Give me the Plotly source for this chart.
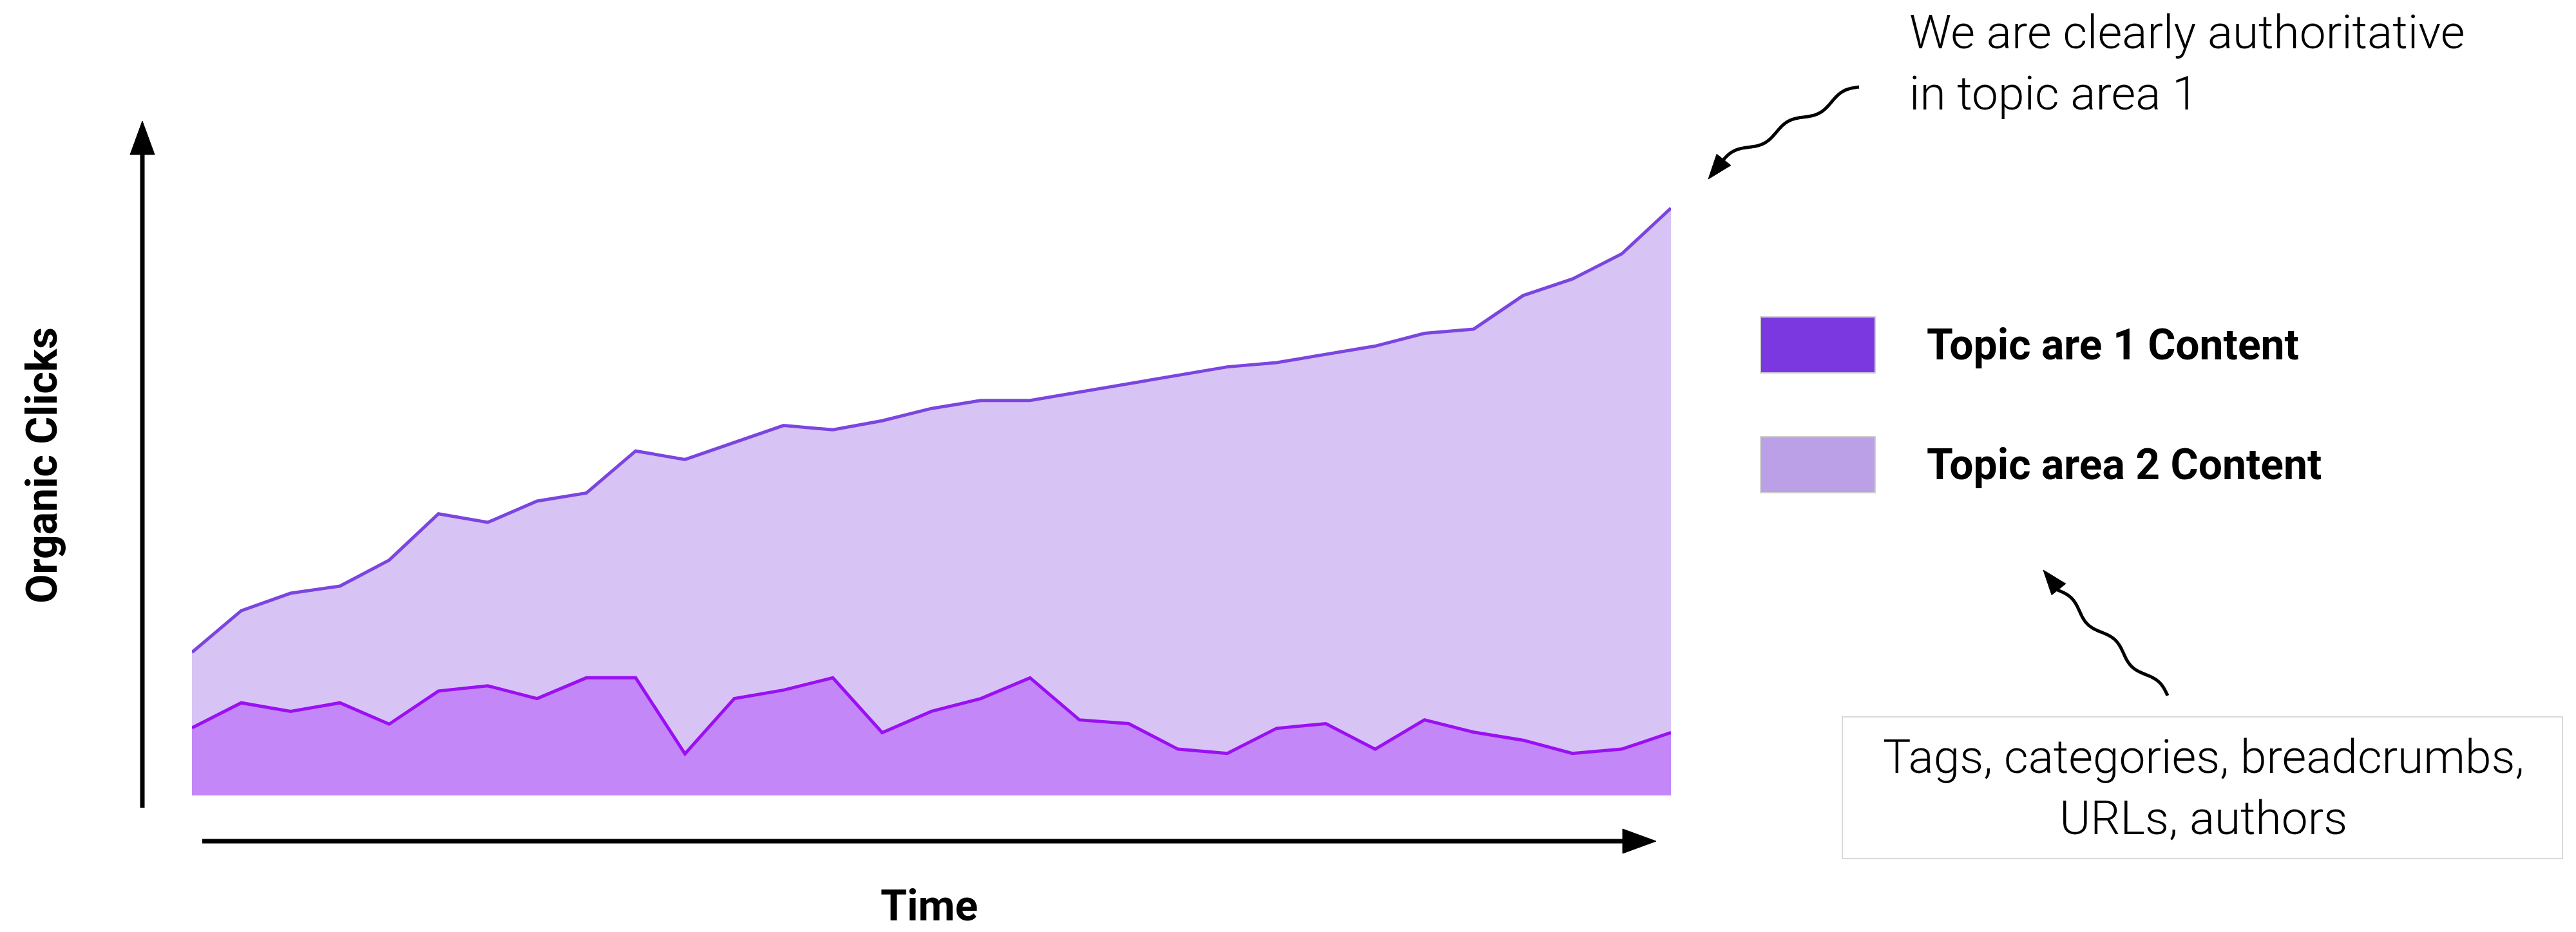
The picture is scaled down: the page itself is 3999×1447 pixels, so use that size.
import numpy as np
import plotly.graph_objects as go

# ---------------- data ----------------
periods = list(range(31))
topic1_clicks = [143, 196, 178, 196, 151, 221, 232, 205, 249, 249, 88, 205, 223, 249, 133,
                 178, 205, 249, 160, 152, 98, 89, 142, 152, 98, 160, 134, 117, 89, 98, 133]
total_clicks = [303, 391, 428, 443, 498, 596, 578, 623, 640, 729, 711, 747, 783, 774, 793,
                819, 836, 836, 854, 871, 889, 907, 916, 934, 951, 978, 987, 1058, 1093, 1146, 1243]
topic2_clicks = [t - a for t, a in zip(total_clicks, topic1_clicks)]

series_names = ["Topic are 1 Content", "Topic area 2 Content"]
x_label = "Time"
y_label = "Organic Clicks"
note_top = "We are clearly authoritative<br>in topic area 1"
note_box = "Tags, categories, breadcrumbs,<br>URLs, authors"

# ---------------- geometry helpers ----------------
W, H = 3999, 1447


def px(x):
    return x / W


def py(y):
    return 1 - y / H


def squiggle(x0, y0, x1, y1, cycles, amp, n=200):
    t = np.linspace(0, 1, n)
    dx, dy = x1 - x0, y1 - y0
    L = np.hypot(dx, dy)
    nx, ny = -dy / L, dx / L
    off = amp * np.sin(2 * np.pi * cycles * t)
    xs = x0 + dx * t + nx * off
    ys = y0 + dy * t + ny * off
    return "M " + " L ".join(f"{px(a):.5f},{py(b):.5f}" for a, b in zip(xs, ys))


def head(tx, ty, bx, by, hw):
    dx, dy = tx - bx, ty - by
    L = np.hypot(dx, dy)
    nx, ny = -dy / L, dx / L
    p1 = (bx + nx * hw, by + ny * hw)
    p2 = (bx - nx * hw, by - ny * hw)
    return (f"M {px(tx):.5f},{py(ty):.5f} L {px(p1[0]):.5f},{py(p1[1]):.5f} "
            f"L {px(p2[0]):.5f},{py(p2[1]):.5f} Z")


# ---------------- figure ----------------
fig = go.Figure()
fig.add_trace(go.Scatter(
    x=periods, y=topic1_clicks, stackgroup="one", mode="lines",
    line=dict(color="#9A10F3", width=5), fillcolor="#C387F7",
    name=series_names[0], showlegend=False,
))
fig.add_trace(go.Scatter(
    x=periods, y=topic2_clicks, stackgroup="one", mode="lines",
    line=dict(color="#7B45E0", width=5), fillcolor="#D8C3F5",
    name=series_names[1], showlegend=False,
))

shapes = []
# axis arrows
shapes.append(dict(type="line", xref="paper", yref="paper",
                   x0=px(221), y0=py(1254), x1=px(221), y1=py(236),
                   line=dict(color="#000000", width=7)))
shapes.append(dict(type="path", xref="paper", yref="paper",
                   path=head(221, 188, 221, 240, 19), fillcolor="#000000",
                   line=dict(color="#000000", width=1)))
shapes.append(dict(type="line", xref="paper", yref="paper",
                   x0=px(314), y0=py(1306), x1=px(2524), y1=py(1306),
                   line=dict(color="#000000", width=7)))
shapes.append(dict(type="path", xref="paper", yref="paper",
                   path=head(2571, 1306, 2519, 1306, 19), fillcolor="#000000",
                   line=dict(color="#000000", width=1)))

# legend swatches
shapes.append(dict(type="rect", xref="paper", yref="paper",
                   x0=px(2733), x1=px(2911), y0=py(579), y1=py(492),
                   fillcolor="#7B38E0", line=dict(color="#D0D0D0", width=2)))
shapes.append(dict(type="rect", xref="paper", yref="paper",
                   x0=px(2733), x1=px(2911), y0=py(765), y1=py(678),
                   fillcolor="#BBA0E8", line=dict(color="#D0D0D0", width=2)))

# note box
shapes.append(dict(type="rect", xref="paper", yref="paper",
                   x0=px(2860), x1=px(3978), y0=py(1333), y1=py(1113),
                   fillcolor="#FFFFFF", line=dict(color="#D9D9D9", width=2)))

# squiggly arrows
shapes.append(dict(type="path", xref="paper", yref="paper",
                   path=squiggle(2886, 135, 2672, 252, 2.5, 6),
                   line=dict(color="#000000", width=5)))
shapes.append(dict(type="path", xref="paper", yref="paper",
                   path=head(2652, 278, 2676, 248, 14), fillcolor="#000000",
                   line=dict(color="#000000", width=1)))
shapes.append(dict(type="path", xref="paper", yref="paper",
                   path=squiggle(3365, 1080, 3194, 916, 2.5, 6),
                   line=dict(color="#000000", width=5)))
shapes.append(dict(type="path", xref="paper", yref="paper",
                   path=head(3172, 885, 3196, 915, 14), fillcolor="#000000",
                   line=dict(color="#000000", width=1)))

bold = dict(family="Roboto, Arial, sans-serif", size=66, color="#000000", weight=700)
light = dict(family="Roboto, Arial, sans-serif", size=73, color="#000000", weight=300)

annotations = [
    dict(text=f"<b>{y_label}</b>", x=px(65), y=py(723), xref="paper", yref="paper",
         textangle=-90, showarrow=False, xanchor="center", yanchor="middle", font=bold),
    dict(text=f"<b>{x_label}</b>", x=px(1442), y=0, xref="paper", yref="paper",
         showarrow=False, xanchor="center", yanchor="bottom", font=bold),
    dict(text=f"<b>{series_names[0]}</b>", x=px(2989), y=py(535), xref="paper", yref="paper",
         showarrow=False, xanchor="left", yanchor="middle", font=bold),
    dict(text=f"<b>{series_names[1]}</b>", x=px(2989), y=py(722), xref="paper", yref="paper",
         showarrow=False, xanchor="left", yanchor="middle", font=bold),
    dict(text=note_top, x=px(2962), y=py(97), xref="paper", yref="paper",
         showarrow=False, xanchor="left", yanchor="middle", align="left", font=light),
    dict(text=note_box, x=px(3420), y=py(1222), xref="paper", yref="paper",
         showarrow=False, xanchor="center", yanchor="middle", align="center", font=light),
]

fig.update_layout(
    width=W, height=H, autosize=False,
    margin=dict(l=0, r=0, t=0, b=0, pad=0),
    paper_bgcolor="#FFFFFF", plot_bgcolor="#FFFFFF",
    showlegend=False,
    xaxis=dict(range=[0, 30], domain=[px(298), px(2594)], visible=False,
               showgrid=False, zeroline=False),
    yaxis=dict(range=[0, 1479], domain=[py(1235), py(150)], visible=False,
               showgrid=False, zeroline=False),
    shapes=shapes,
    annotations=annotations,
)

fig.write_html("out.html")
